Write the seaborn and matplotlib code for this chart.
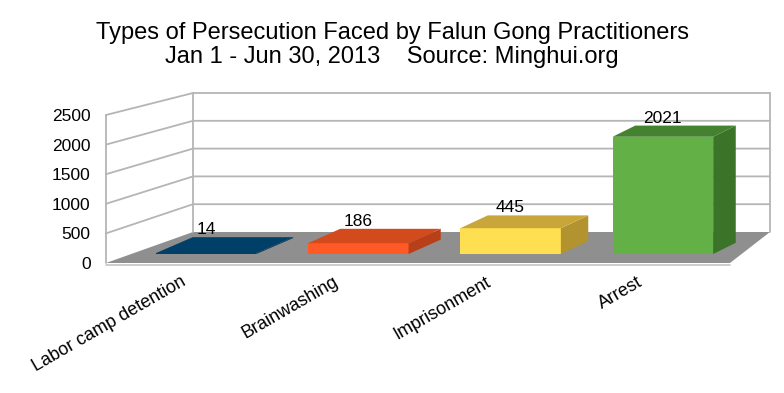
import numpy as np
import pandas as pd
import matplotlib
matplotlib.use('Agg')
import matplotlib.pyplot as plt
import matplotlib.transforms as mtransforms
from matplotlib.patches import Polygon
import seaborn as sns

categories = ['Labor camp detention', 'Brainwashing', 'Imprisonment', 'Arrest']
counts = [14, 186, 445, 2021]
front_colors = ['#004068', '#ff5a26', '#ffdf52', '#62b046']
top_colors = ['#004068', '#d34a1d', '#c9a63a', '#45822f']
side_colors = ['#00304f', '#b83f18', '#b3932f', '#3b7329']
yticks = [0, 500, 1000, 1500, 2000, 2500]

df = pd.DataFrame({'Type': categories, 'Count': counts})

sns.set_theme(style='white')
plt.rcParams['font.family'] = ['Liberation Sans', 'DejaVu Sans']

W, H = 784, 393
fig = plt.figure(figsize=(W / 100, H / 100), dpi=100)

# box corners in pixels (front plane / back wall)
FL, FR, FB, FT = 106, 730, 263, 115
BL, BR, BB, BT = 193, 770, 232, 93
grid_c = '#b5b5b5'

bg = fig.add_axes([0, 0, 1, 1])
bg.set_xlim(0, W)
bg.set_ylim(H, 0)
bg.axis('off')

def fy(v):
    return FB - v * (FB - FT) / 2500

def by(v):
    return BB - v * (BB - BT) / 2500

bg.add_patch(Polygon([(FL, FB), (BL, BB), (BR, BB), (FR, FB)], closed=True,
                     facecolor='#8f8f8f', edgecolor='none'))
bg.plot([FL, FR], [FB + 1.5, FB + 1.5], color='#c4c4c4', lw=1.2)
for v in yticks[1:]:
    bg.plot([FL, BL, BR], [fy(v), by(v), by(v)], color=grid_c, lw=1.3)
bg.plot([FL, FL], [FT, FB], color=grid_c, lw=1.3)
bg.plot([BL, BL], [BT, BB], color=grid_c, lw=1.3)
bg.plot([BR, BR], [BT, BB], color=grid_c, lw=1.3)

# front plane axis: carries the value ticks
ax = fig.add_axes([FL / W, (H - FB) / H, (FR - FL) / W, (FB - FT) / H])
ax.set_ylim(0, 2500)
ax.set_yticks(yticks)
ax.set_yticklabels([str(v) for v in yticks], fontsize=12.5, color='black')
ax.set_xticks([])
ax.tick_params(axis='y', length=0, pad=11)
ax.patch.set_alpha(0)
for s in ax.spines.values():
    s.set_visible(False)

# bar axis, sitting a little behind the front plane
step = 152.3
bar_bottom = 254
bar_h = 145
left = 206 - step / 2
bax = fig.add_axes([left / W, (H - bar_bottom) / H, 4 * step / W, bar_h / H])
sns.barplot(data=df, x='Type', y='Count', hue='Type', palette=front_colors,
            saturation=1, width=0.66, legend=False, ax=bax,
            edgecolor='none', linewidth=0)
bax.set_xlim(-0.5, 3.5)
bax.set_ylim(0, 2500)
bax.patch.set_alpha(0)
for s in bax.spines.values():
    s.set_visible(False)
bax.set_yticks([])
bax.set_xlabel('')
bax.set_ylabel('')

per_px_y = 2500 / bar_h
for i, p in enumerate(bax.patches[:len(counts)]):
    x0, w, h = p.get_x(), p.get_width(), p.get_height()
    dx = (37 - 4.8 * i) / step
    dy = (16 - 1.6 * i) * per_px_y
    top = Polygon([(x0, h), (x0 + w, h), (x0 + w + dx, h + dy), (x0 + dx, h + dy)],
                  closed=True, facecolor=top_colors[i], edgecolor='none', clip_on=False)
    side = Polygon([(x0 + w, 0), (x0 + w, h), (x0 + w + dx, h + dy), (x0 + w + dx, dy)],
                   closed=True, facecolor=side_colors[i], edgecolor='none', clip_on=False)
    bax.add_patch(side)
    bax.add_patch(top)
    bax.text(x0 + w / 2, h + dy + 3 * per_px_y, str(counts[i]), ha='center',
             va='baseline', fontsize=12.5, color='black')

bax.set_xticks(range(len(categories)))
bax.set_xticklabels(categories, rotation=30, ha='right', fontsize=13, color='black')
bax.tick_params(axis='x', length=0, pad=14)
shift = mtransforms.ScaledTranslation(-0.17, 0, fig.dpi_scale_trans)
for lab in bax.get_xticklabels():
    lab.set_transform(lab.get_transform() + shift)

fig.text(0.5, 1 - 33 / H, 'Types of Persecution Faced by Falun Gong Practitioners',
         ha='center', va='center', fontsize=17, color='black')
fig.text(0.5, 1 - 57 / H, 'Jan 1 - Jun 30, 2013    Source: Minghui.org',
         ha='center', va='center', fontsize=17, color='black')

fig.savefig('out.png', dpi=100)
plt.close()
